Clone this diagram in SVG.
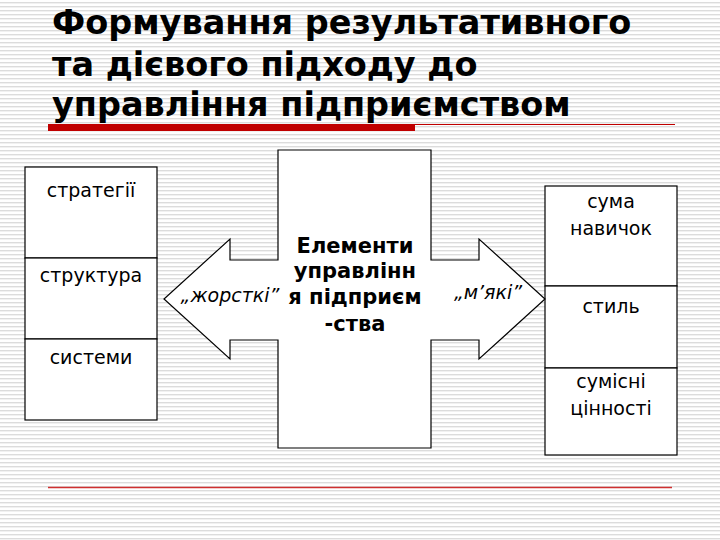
<svg xmlns="http://www.w3.org/2000/svg" width="720" height="540" viewBox="0 0 720 540">
<defs>
<pattern id="bg" width="4" height="4" patternUnits="userSpaceOnUse"><rect width="4" height="4" fill="#fff"/><rect y="2" width="4" height="1.4" fill="#dcdcdc"/></pattern>
<style>
.box{fill:#fff;stroke:#000;stroke-width:1.2}
.t{font-family:"DejaVu Sans",sans-serif;font-size:19px;fill:#000;text-anchor:middle}
.ti{font-family:"DejaVu Sans",sans-serif;font-size:33.5px;font-weight:bold;fill:#000}
.c{font-family:"DejaVu Sans",sans-serif;font-size:21px;font-weight:bold;fill:#000;text-anchor:middle}
.i{font-family:"DejaVu Sans",sans-serif;font-size:19px;font-style:italic;fill:#000;text-anchor:middle}
</style>
</defs>
<rect width="720" height="540" fill="url(#bg)"/>
<g id="title">
<text class="ti" x="52" y="34">Формування результативного</text>
<text class="ti" x="52" y="76">та дієвого підходу до</text>
<text class="ti" x="52" y="116">управління підприємством</text>
<rect x="48" y="124" width="367" height="7" fill="#c00000"/>
<line x1="415" y1="124.5" x2="675" y2="124.5" stroke="#c00000" stroke-width="1"/>
<line x1="48" y1="487.5" x2="672" y2="487.5" stroke="#d03030" stroke-width="1.5"/>
</g>
<g id="left">
<rect class="box" x="25" y="167" width="132" height="91"/>
<rect class="box" x="25" y="258" width="132" height="81"/>
<rect class="box" x="25" y="339" width="132" height="81"/>
<text class="t" x="91" y="197">стратегії</text>
<text class="t" x="91" y="282">структура</text>
<text class="t" x="91" y="364">системи</text>
</g>
<g id="right">
<rect class="box" x="545" y="186" width="132" height="100"/>
<rect class="box" x="545" y="286" width="132" height="82"/>
<rect class="box" x="545" y="368" width="132" height="87"/>
<text class="t" x="611" y="208">сума</text>
<text class="t" x="611" y="235">навичок</text>
<text class="t" x="611" y="313">стиль</text>
<text class="t" x="611" y="388">сумісні</text>
<text class="t" x="611" y="415">цінності</text>
</g>
<g id="center">
<path d="M278,150 H431 V260 H479 V239 L545,299 L479,359 V340 H431 V448 H278 V340 H230 V359 L164,299 L230,239 V260 H278 Z" fill="#fff" stroke="#000" stroke-width="1.2"/>
<text class="c" x="355" y="253">Елементи</text>
<text class="c" x="355" y="278">управлінн</text>
<text class="c" x="355" y="304">я підприєм</text>
<text class="c" x="355" y="331">-ства</text>
<text class="i" x="230" y="302">„жорсткі”</text>
<text class="i" x="488" y="299">„м’які”</text>
</g>
<g id="connectors"/>
</svg>
